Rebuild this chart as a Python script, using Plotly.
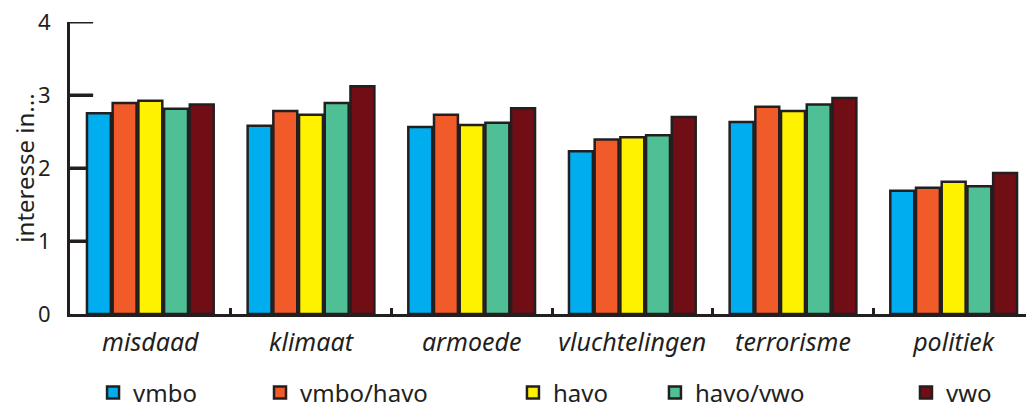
import plotly.graph_objects as go

categories = ["misdaad", "klimaat", "armoede", "vluchtelingen", "terrorisme", "politiek"]
series_names = ["vmbo", "vmbo/havo", "havo", "havo/vwo", "vwo"]
vmbo = [2.75, 2.58, 2.56, 2.23, 2.63, 1.69]
vmbo_havo = [2.89, 2.78, 2.73, 2.39, 2.84, 1.73]
havo = [2.92, 2.73, 2.59, 2.42, 2.78, 1.81]
havo_vwo = [2.81, 2.89, 2.62, 2.45, 2.87, 1.75]
vwo = [2.87, 3.12, 2.82, 2.70, 2.96, 1.93]
y_ticks = [0, 1, 2, 3, 4]

series_values = [vmbo, vmbo_havo, havo, havo_vwo, vwo]
colors = ["#00AEEF", "#F15A29", "#FFF200", "#4FC095", "#710D15"]
legend_x = [0.0239, 0.1971, 0.4595, 0.6068, 0.8672]

ink = "#231F20"
font_family = "Noto Sans, Open Sans, sans-serif"

fig = go.Figure()
for i, (name, vals, col) in enumerate(zip(series_names, series_values, colors)):
    fig.add_trace(go.Bar(
        x=categories, y=vals, name=name, showlegend=True,
        marker=dict(color=col, line=dict(color=ink, width=2.5)),
        legend="legend" if i == 0 else f"legend{i+1}",
    ))

layout_legends = {}
for i, lx in enumerate(legend_x):
    key = "legend" if i == 0 else f"legend{i+1}"
    layout_legends[key] = dict(
        x=lx, y=-0.27, xanchor="left", yanchor="middle",
        orientation="h", bgcolor="rgba(0,0,0,0)",
        font=dict(family=font_family, size=24, color=ink),
    )

fig.update_layout(
    width=1026, height=399,
    margin=dict(l=62, r=0, t=14, b=93, autoexpand=False),
    paper_bgcolor="white", plot_bgcolor="white",
    showlegend=True,
    barmode="group", bargap=0.2, bargroupgap=0.07,
    font=dict(family=font_family, color=ink),
    **layout_legends,
)

# inward y-axis tick marks, placed at the tick values via the y scale
for t in y_ticks[1:]:
    fig.add_shape(type="line", xref="paper", yref="y", x0=0, x1=0.024, y0=t, y1=t,
                  line=dict(color=ink, width=3), layer="below")

fig.update_xaxes(
    type="category", showline=True, linecolor=ink, linewidth=3, automargin=False,
    ticks="inside", tickson="boundaries", ticklen=6, tickwidth=3, tickcolor=ink,
    tickfont=dict(family=font_family, size=25, color=ink, style="italic"),
    tickangle=0, ticklabelstandoff=4, showgrid=False, layer="below traces",
)
fig.update_yaxes(
    range=[0, 4], tickvals=y_ticks, showline=True, linecolor=ink, linewidth=3, automargin=False,
    ticks="inside", ticklen=23, tickwidth=3, tickcolor=ink,
    tickfont=dict(family=font_family, size=22, color=ink),
    ticklabeloverflow="allow", layer="below traces",
    ticklabelstandoff=12, showgrid=False, zeroline=False,
    title=dict(text="interesse in...", font=dict(family=font_family, size=24, color=ink), standoff=20),
)

fig.write_html("out.html")
